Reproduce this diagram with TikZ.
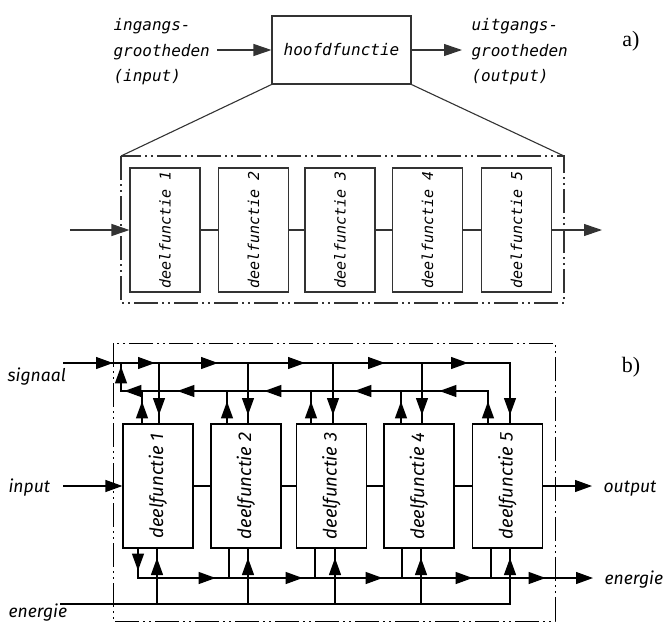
\documentclass[tikz,border=0pt]{standalone}
\usepackage{fontspec}
\usetikzlibrary{arrows.meta,decorations.markings}
\newfontfamily\monof{DejaVu Sans Mono}
\newfontfamily\sansf{Fira Sans}
\newfontfamily\serf{Liberation Serif}
\tikzset{
  tipa/.style={-{Triangle[length=18pt,width=12pt]}},
  tipb/.style={-{Triangle[length=17pt,width=12pt]}},
  mid/.style={postaction={decorate,decoration={markings,mark=at position #1 with {\arrow{Triangle[length=17pt,width=12pt]}}}}},
  dashdot/.style={dash pattern=on 24pt off 4pt on 2pt off 4pt on 2pt off 4pt},
  boxa/.style={draw, inner sep=0pt, minimum width=70pt, minimum height=124pt, font=\monof\itshape\fontsize{15}{18}\selectfont},
  boxb/.style={draw, inner sep=0pt, minimum width=70pt, minimum height=124pt, font=\sansf\itshape\fontsize{18.5}{20}\selectfont},
}
\begin{document}
\begin{tikzpicture}[x=1pt,y=-1pt,line width=1.1pt]
\useasboundingbox (0,0) rectangle (665,622);

% ---------------- part a ----------------
\begin{scope}[draw=black!80, text=black, font=\monof\itshape\fontsize{16}{25.5}\selectfont]
\node[draw, inner sep=0pt, minimum width=139pt, minimum height=68pt] (hf) at (341.5,50) {hoofdfunctie};
\node[anchor=west, align=left, inner sep=0pt] (inl) at (113,52) {ingangs-\\grootheden\\(input)};
\coordinate (inA) at (217,50);
\draw[tipa] (inA) -- (hf.west);
\coordinate (outA) at (462,50);
\draw[tipa] (hf.east) -- (outA);
\node[anchor=west, align=left, inner sep=0pt] (outl) at (471,52) {uitgangs-\\grootheden\\(output)};
\coordinate (oa1) at (121,156);
\coordinate (oa2) at (564,303);
\draw[dashdot] (oa1) rectangle (oa2);
\draw (hf.south west) -- (oa1);
\draw (hf.south east) -- (oa1 -| oa2);
\node[boxa] (a1) at (165,230) {\rotatebox{90}{deelfunctie 1}};
\node[boxa] (a2) at (253.5,230) {\rotatebox{90}{deelfunctie 2}};
\node[boxa] (a3) at (340,230) {\rotatebox{90}{deelfunctie 3}};
\node[boxa] (a4) at (427.5,230) {\rotatebox{90}{deelfunctie 4}};
\node[boxa] (a5) at (516.5,230) {\rotatebox{90}{deelfunctie 5}};
\draw (a1) -- (a2); \draw (a2) -- (a3); \draw (a3) -- (a4); \draw (a4) -- (a5);
\coordinate (inAa) at (70,230);
\coordinate (outAa) at (602,230);
\draw[tipa] (inAa) -- (a1.west);
\draw[tipa] (a5.east) -- (outAa);
\end{scope}
\node[font=\serf\fontsize{22}{22}\selectfont] (la) at (631,41) {a)};

% ---------------- part b ----------------
\begin{scope}[line width=1.2pt, font=\sansf\itshape\fontsize{17.5}{20}\selectfont]
\coordinate (ob1) at (113,343);
\coordinate (ob2) at (555,621);
\draw[line width=1pt, dashdot] (ob1) rectangle (ob2);
\node[boxb] (b1) at (158,486) {\rotatebox{90}{deelfunctie 1}};
\node[boxb] (b2) at (246,486) {\rotatebox{90}{deelfunctie 2}};
\node[boxb] (b3) at (331.5,486) {\rotatebox{90}{deelfunctie 3}};
\node[boxb] (b4) at (419,486) {\rotatebox{90}{deelfunctie 4}};
\node[boxb] (b5) at (507.5,486) {\rotatebox{90}{deelfunctie 5}};
\draw (b1) -- (b2); \draw (b2) -- (b3); \draw (b3) -- (b4); \draw (b4) -- (b5);

% signal line
\coordinate (sigin) at (63,363);
\coordinate (s1) at (159,363);
\coordinate (s2) at (248,363);
\coordinate (s3) at (333,363);
\coordinate (s4) at (422,363);
\coordinate (s5) at (510,363);
\draw[mid=50pt, mid=92pt, mid=155pt, mid=242pt, mid=322pt, mid=405pt, mid=499pt]
  (sigin) -- (s5) -- (s5 |- b5.north);
\foreach \i in {1,2,3,4} { \draw[mid=52pt] (s\i) -- (s\i |- b\i.north); }
\node[anchor=base west, inner sep=0pt] (sig) at (7,381) {signaal};

% feedback line
\coordinate (f1) at (142,391);
\coordinate (f2) at (227,391);
\coordinate (f3) at (311,391);
\coordinate (f4) at (401,391);
\coordinate (f5) at (488,391);
\coordinate (fc) at (121,391);
\coordinate (fj) at (121,363);
\draw[mid=22pt, mid=81pt, mid=166pt, mid=256pt, mid=343pt, mid=396pt, mid=424pt]
  (f5 |- b5.north) -- (f5) -- (fc) -- (fj);
\foreach \i in {1,2,3,4} { \draw[mid=22pt] (f\i |- b\i.north) -- (f\i); }

% energy out
\coordinate (d1) at (138,578);
\coordinate (eout) at (593,578);
\draw[tipb, mid=22pt, mid=107pt, mid=194pt, mid=274pt, mid=364pt, mid=437pt]
  (d1 |- b1.south) -- (d1) -- (eout);
\coordinate (j2) at (229,578);
\coordinate (j3) at (315,578);
\coordinate (j4) at (402,578);
\coordinate (j5) at (491,578);
\foreach \i in {2,3,4,5} { \draw (j\i |- b\i.south) -- (j\i); }
\node[anchor=base west, inner sep=0pt] (enr) at (604,584) {energie};

% energy in
\coordinate (ein) at (60,604);
\coordinate (e1) at (157,604);
\coordinate (e2) at (248,604);
\coordinate (e3) at (335,604);
\coordinate (e4) at (421,604);
\coordinate (e5) at (510,604);
\draw[mid=496pt] (ein) -- (e5) -- (e5 |- b5.south);
\foreach \i in {1,2,3,4} { \draw[mid=46pt] (e\i) -- (e\i |- b\i.south); }
\node[anchor=base west, inner sep=0pt] (enl) at (8,617) {energie};

% input / output
\coordinate (inB) at (63,486);
\draw[tipb] (inB) -- (b1.west);
\node[anchor=base west, inner sep=0pt] (inpt) at (8,492) {input};
\coordinate (outB) at (592,486);
\draw[tipb] (b5.east) -- (outB);
\node[anchor=base west, inner sep=0pt] (outp) at (603,492) {output};
\end{scope}
\node[font=\serf\fontsize{22}{22}\selectfont] (lb) at (631,367) {b)};
\end{tikzpicture}
\end{document}
